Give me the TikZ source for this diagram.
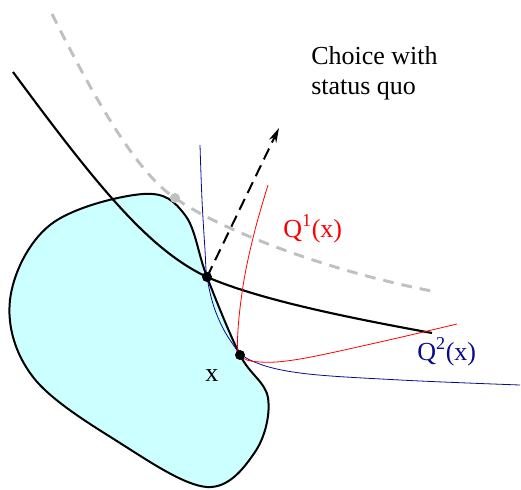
\documentclass[tikz,border=0pt]{standalone}
\usepackage{fontspec}
\setmainfont{Liberation Serif}
\usetikzlibrary{arrows.meta}
\definecolor{setfill}{RGB}{204,255,255}
\definecolor{navy}{RGB}{10,10,140}
\definecolor{sqgray}{RGB}{192,192,192}

\begin{document}
\begin{tikzpicture}[x=0.75pt,y=-0.75pt,font=\fontsize{19.5}{22.5}\selectfont]
  \useasboundingbox (0,0) rectangle (521,489);
  \coordinate (A) at (207,277);
  \coordinate (B) at (240,355);
  \coordinate (S) at (175,198);
  \coordinate (C) at (279,128);
  % feasible set
  \draw[line width=1.5pt,fill=setfill] plot[smooth cycle,tension=0.6] coordinates {
    (143,194) (185,215) (A) (B) (268,398) (255,452) (207,487) (120,443)
    (33,377) (10,300) (50,225)};
  % status quo indifference curve
  \draw[sqgray,line width=2.2pt,dash pattern=on 8pt off 6pt]
    (52,14) .. controls (100,110) and (140,175) .. (S)
    .. controls (220,230) and (330,272) .. (437,292);
  % indifference curve through the choice
  \draw[line width=1.6pt]
    (13,72) .. controls (100,190) and (150,250) .. (A)
    .. controls (260,300) and (350,318) .. (432,333);
  % Q curves
  \draw[navy,line width=0.6pt] plot[smooth,tension=0.6] coordinates {
    (200,145) (202,200) (205,250) (A) (215,310) (230,340) (250,360)
    (300,373) (400,380) (520,385)};
  \draw[red,line width=0.6pt] plot[smooth,tension=0.6] coordinates {
    (268,185) (255,230) (244,280) (238,330) (B) (260,362) (300,359)
    (380,342) (457,324)};
  \draw[line width=1.5pt,dash pattern=on 9pt off 5pt,-{Stealth[length=11pt,width=6pt]}] (A) -- (C);
  \fill[sqgray] (S) circle (5);
  \fill (A) circle (5);
  \fill (B) circle (5);
  \node[anchor=base west,align=left,inner sep=0] (choice) at (311,94) {Choice with\\status quo};
  \node[anchor=base west,inner sep=0,red] (q1) at (283,237) {Q\textsuperscript{1}(x)};
  \node[anchor=base west,inner sep=0,navy] (q2) at (417,360) {Q\textsuperscript{2}(x)};
  \node[anchor=base west,inner sep=0] (xlab) at (205,381) {x};
\end{tikzpicture}
\end{document}
